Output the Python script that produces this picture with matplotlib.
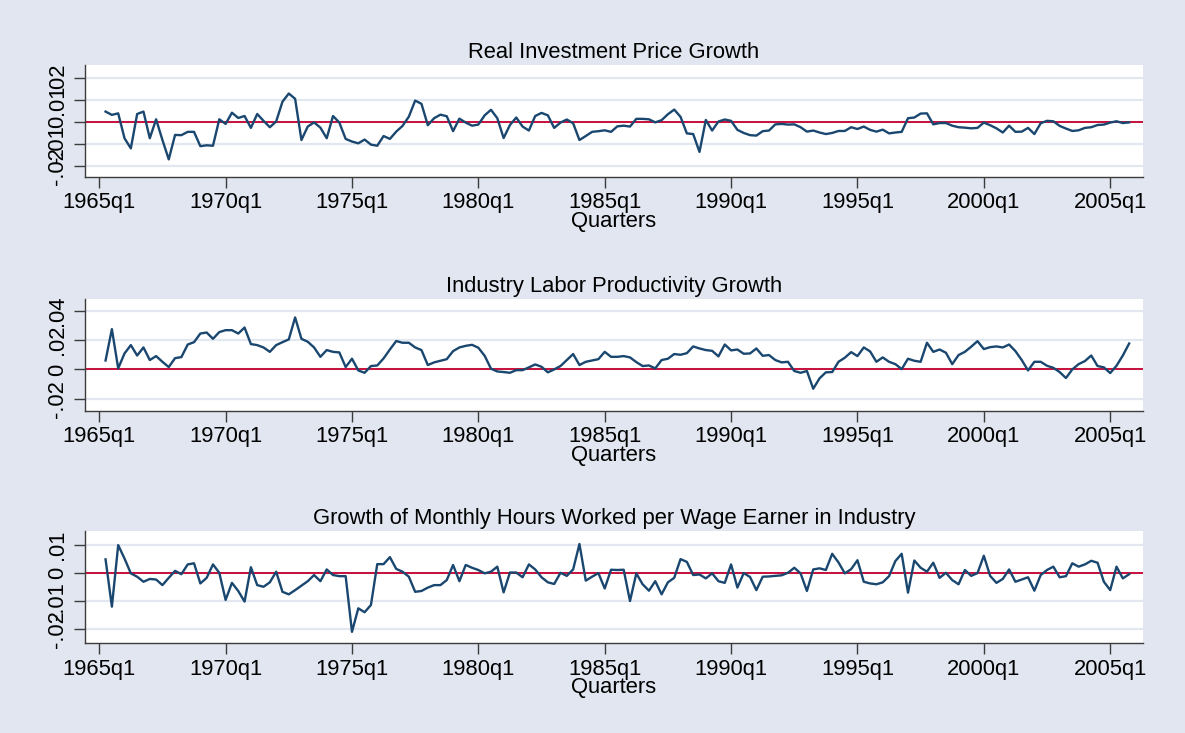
import matplotlib
matplotlib.use("Agg")
import matplotlib.pyplot as plt

# quarters counted from 1960q1 (Stata %tq); data run 1965q2 .. 2005q4
start_q = 21

invest_price = [
    0.0047, 0.0032, 0.0039, -0.0074, -0.0120, 0.0036, 0.0047, -0.0074, 0.0012, -0.0082,
    -0.0170, -0.0059, -0.0060, -0.0045, -0.0045, -0.0110, -0.0106, -0.0108, 0.0012, -0.0009,
    0.0042, 0.0018, 0.0027, -0.0027, 0.0036, 0.0005, -0.0024, 0.0002, 0.0092, 0.0129,
    0.0105, -0.0082, -0.0021, -0.0002, -0.0026, -0.0074, 0.0027, -0.0003, -0.0077, -0.0089,
    -0.0097, -0.0080, -0.0103, -0.0108, -0.0064, -0.0077, -0.0044, -0.0018, 0.0024, 0.0097,
    0.0082, -0.0015, 0.0017, 0.0033, 0.0026, -0.0042, 0.0015, -0.0003, -0.0017, -0.0012,
    0.0030, 0.0055, 0.0017, -0.0073, -0.0014, 0.0020, -0.0021, -0.0039, 0.0027, 0.0041,
    0.0030, -0.0027, -0.0003, 0.0011, -0.0006, -0.0082, -0.0064, -0.0045, -0.0042, -0.0038,
    -0.0045, -0.0020, -0.0017, -0.0021, 0.0014, 0.0014, 0.0012, -0.0002, 0.0008, 0.0035,
    0.0056, 0.0023, -0.0052, -0.0055, -0.0136, 0.0009, -0.0039, 0.0002, 0.0011, 0.0005,
    -0.0036, -0.0050, -0.0060, -0.0062, -0.0042, -0.0039, -0.0011, -0.0009, -0.0012, -0.0011,
    -0.0024, -0.0044, -0.0039, -0.0048, -0.0055, -0.0050, -0.0041, -0.0041, -0.0024, -0.0032,
    -0.0021, -0.0036, -0.0044, -0.0035, -0.0052, -0.0048, -0.0045, 0.0017, 0.0020, 0.0038,
    0.0039, -0.0011, -0.0005, -0.0005, -0.0017, -0.0024, -0.0026, -0.0029, -0.0027, -0.0003,
    -0.0015, -0.0029, -0.0048, -0.0017, -0.0045, -0.0044, -0.0027, -0.0055, -0.0006, 0.0005,
    0.0003, -0.0018, -0.0030, -0.0041, -0.0038, -0.0027, -0.0024, -0.0014, -0.0012, -0.0003,
    0.0003, -0.0005, -0.0002,
]

labor_prod = [
    0.0061, 0.0275, 0.0007, 0.0109, 0.0166, 0.0095, 0.0150, 0.0064, 0.0091, 0.0052,
    0.0016, 0.0077, 0.0084, 0.0170, 0.0186, 0.0245, 0.0252, 0.0209, 0.0255, 0.0268,
    0.0268, 0.0245, 0.0286, 0.0173, 0.0166, 0.0150, 0.0120, 0.0166, 0.0186, 0.0205,
    0.0355, 0.0209, 0.0189, 0.0150, 0.0086, 0.0132, 0.0120, 0.0116, 0.0016, 0.0073,
    -0.0007, -0.0023, 0.0023, 0.0027, 0.0075, 0.0136, 0.0194, 0.0182, 0.0182, 0.0150,
    0.0132, 0.0030, 0.0048, 0.0059, 0.0070, 0.0125, 0.0150, 0.0161, 0.0168, 0.0148,
    0.0093, 0.0005, -0.0014, -0.0018, -0.0023, -0.0005, -0.0005, 0.0014, 0.0034, 0.0018,
    -0.0020, 0.0000, 0.0023, 0.0064, 0.0105, 0.0030, 0.0052, 0.0061, 0.0070, 0.0120,
    0.0086, 0.0086, 0.0091, 0.0082, 0.0050, 0.0023, 0.0027, 0.0007, 0.0064, 0.0073,
    0.0105, 0.0100, 0.0111, 0.0157, 0.0143, 0.0132, 0.0127, 0.0089, 0.0170, 0.0130,
    0.0136, 0.0107, 0.0109, 0.0143, 0.0093, 0.0098, 0.0064, 0.0048, 0.0052, -0.0011,
    -0.0023, -0.0011, -0.0132, -0.0061, -0.0020, -0.0018, 0.0052, 0.0080, 0.0118, 0.0091,
    0.0150, 0.0123, 0.0052, 0.0082, 0.0052, 0.0036, 0.0002, 0.0073, 0.0059, 0.0052,
    0.0182, 0.0120, 0.0136, 0.0114, 0.0036, 0.0098, 0.0120, 0.0155, 0.0193, 0.0139,
    0.0152, 0.0157, 0.0150, 0.0170, 0.0125, 0.0064, -0.0007, 0.0052, 0.0052, 0.0025,
    0.0011, -0.0018, -0.0059, 0.0000, 0.0036, 0.0057, 0.0095, 0.0023, 0.0014, -0.0025,
    0.0025, 0.0095, 0.0177,
]

hours_worked = [
    0.0049, -0.0120, 0.0100, 0.0052, -0.0001, -0.0013, -0.0031, -0.0021, -0.0023, -0.0043,
    -0.0017, 0.0008, -0.0004, 0.0031, 0.0035, -0.0037, -0.0017, 0.0031, 0.0001, -0.0096,
    -0.0035, -0.0064, -0.0102, 0.0021, -0.0043, -0.0049, -0.0033, 0.0005, -0.0067, -0.0076,
    -0.0061, -0.0045, -0.0029, -0.0007, -0.0029, 0.0013, -0.0007, -0.0011, -0.0011, -0.0210,
    -0.0126, -0.0140, -0.0114, 0.0032, 0.0032, 0.0057, 0.0015, 0.0005, -0.0013, -0.0067,
    -0.0064, -0.0052, -0.0043, -0.0043, -0.0025, 0.0029, -0.0029, 0.0029, 0.0019, 0.0011,
    -0.0001, 0.0005, 0.0023, -0.0069, 0.0002, 0.0002, -0.0015, 0.0031, 0.0013, -0.0015,
    -0.0033, -0.0039, 0.0001, -0.0010, 0.0013, 0.0104, -0.0027, -0.0013, 0.0000, -0.0055,
    0.0012, 0.0011, 0.0012, -0.0100, -0.0001, -0.0040, -0.0063, -0.0029, -0.0076, -0.0033,
    -0.0017, 0.0050, 0.0040, -0.0007, -0.0005, -0.0019, -0.0001, -0.0029, -0.0035, 0.0031,
    -0.0052, 0.0000, -0.0014, -0.0061, -0.0013, -0.0012, -0.0010, -0.0008, 0.0001, 0.0019,
    -0.0001, -0.0064, 0.0013, 0.0017, 0.0011, 0.0069, 0.0038, -0.0001, 0.0014, 0.0046,
    -0.0031, -0.0037, -0.0040, -0.0033, -0.0011, 0.0043, 0.0069, -0.0070, 0.0045, 0.0019,
    0.0005, 0.0037, -0.0017, 0.0001, -0.0025, -0.0040, 0.0011, -0.0010, 0.0000, 0.0062,
    -0.0010, -0.0035, -0.0021, 0.0013, -0.0031, -0.0023, -0.0015, -0.0063, -0.0007, 0.0011,
    0.0023, -0.0015, -0.0011, 0.0035, 0.0023, 0.0031, 0.0044, 0.0037, -0.0031, -0.0061,
    0.0023, -0.0019, -0.0004,
]

titles = [
    "Real Investment Price Growth",
    "Industry Labor Productivity Growth",
    "Growth of Monthly Hours Worked per Wage Earner in Industry",
]
y_ticks = [
    [-0.02, -0.01, 0, 0.01, 0.02],
    [-0.02, 0, 0.02, 0.04],
    [-0.02, -0.01, 0, 0.01],
]
y_labels = [
    ["-.02", "-.01", "0", ".01", ".02"],
    ["-.02", "0", ".02", ".04"],
    ["-.02", "-.01", "0", ".01"],
]
y_limits = [(-0.025, 0.0259), (-0.0282, 0.0484), (-0.0251, 0.0150)]
x_ticks = list(range(20, 181, 20))
x_labels = [f"{1965 + 5 * i}q1" for i in range(len(x_ticks))]

series = [invest_price, labor_prod, hours_worked]
quarters = list(range(start_q, start_q + len(invest_price)))

plt.rcParams["font.family"] = ["Liberation Sans", "DejaVu Sans"]

bg = "#e1e6f0"
navy = "#1a476f"
red = "#c8103c"
grid_c = "#e3e8f0"
axis_c = "#3c3c3c"
fs = 15.8

fig = plt.figure(figsize=(11.85, 7.33), dpi=100, facecolor=bg)

bottoms = [0.7585, 0.4397, 0.1224]
for i in range(3):
    ax = fig.add_axes([0.0717, bottoms[i], 0.8929, 0.153])
    ax.set_facecolor("white")
    ax.plot(quarters, series[i], color=navy, lw=1.7, zorder=3)
    ax.axhline(0, color=red, lw=1.4, zorder=2)
    ax.set_xlim(17.74, 185.2)
    ax.set_ylim(*y_limits[i])
    ax.set_yticks(y_ticks[i])
    ax.set_yticklabels(y_labels[i], rotation=90, va="center")
    ax.set_xticks(x_ticks)
    ax.set_xticklabels(x_labels)
    ax.grid(axis="y", color=grid_c, lw=1.6, zorder=1)
    ax.set_axisbelow(True)
    for s in ("top", "right"):
        ax.spines[s].set_visible(False)
    for s in ("left", "bottom"):
        ax.spines[s].set_color(axis_c)
        ax.spines[s].set_linewidth(1.0)
    ax.tick_params(axis="both", length=8, width=1.0, color=axis_c,
                   labelsize=fs, labelcolor="black")
    ax.tick_params(axis="x", pad=3)
    ax.tick_params(axis="y", pad=4)
    ax.set_title(titles[i], fontsize=fs, pad=5)
    ax.set_xlabel("Quarters", fontsize=fs, labelpad=-1.5)

fig.savefig("out.png", dpi=100, facecolor=bg)
